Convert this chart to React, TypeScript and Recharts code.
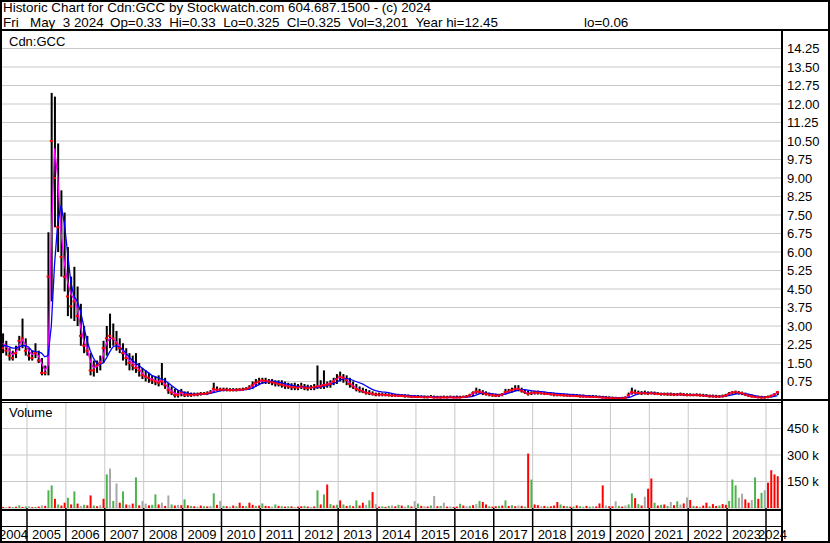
import { Bar, CartesianGrid, Cell, ComposedChart, Line, Scatter, XAxis, YAxis } from "recharts"

// one value per month, May 2004 … Apr 2024
const firstYear = 2004
const firstMonth = 5

const priceHigh = [
  2.7, 2.4, 2.1, 2.0, 2.2, 2.6, 3.3, 2.5,
  2.1, 2.0, 2.3, 2.0, 1.7, 1.4, 6.8, 12.45, 12.3, 10.4, 8.5, 7.6,
  6.2, 5.0, 5.4, 4.6, 3.9, 3.0, 2.6, 1.9, 1.6, 1.6, 1.8, 2.4,
  3.0, 3.5, 3.1, 2.8, 2.5, 2.3, 2.1, 1.9, 1.8, 1.9, 1.5, 1.3,
  1.2, 1.1, 1.0, 0.95, 1.0, 1.5, 0.9, 0.7, 0.55, 0.45, 0.4, 0.45,
  0.35, 0.35, 0.3, 0.3, 0.3, 0.32, 0.32, 0.35, 0.4, 0.7, 0.55, 0.5,
  0.5, 0.5, 0.48, 0.48, 0.48, 0.48, 0.5, 0.52, 0.6, 0.75, 0.85, 0.9,
  0.9, 0.9, 0.85, 0.85, 0.8, 0.8, 0.8, 0.75, 0.7, 0.68, 0.7, 0.65,
  0.7, 0.65, 0.62, 0.6, 0.65, 1.4, 0.8, 1.2, 0.75, 0.8, 0.9, 1.05,
  1.15, 1.05, 1.0, 0.9, 0.75, 0.65, 0.55, 0.5, 0.45, 0.4, 0.35, 0.3,
  0.3, 0.3, 0.28, 0.27, 0.25, 0.25, 0.25, 0.24, 0.23, 0.22, 0.2, 0.2,
  0.2, 0.19, 0.18, 0.18, 0.2, 0.18, 0.17, 0.17, 0.18, 0.17, 0.18, 0.17,
  0.18, 0.17, 0.18, 0.2, 0.25, 0.35, 0.5, 0.45, 0.4, 0.35, 0.3, 0.28,
  0.25, 0.25, 0.28, 0.45, 0.45, 0.5, 0.6, 0.6, 0.5, 0.42, 0.38, 0.35,
  0.38, 0.38, 0.35, 0.33, 0.32, 0.3, 0.3, 0.28, 0.27, 0.26, 0.25, 0.24,
  0.25, 0.24, 0.22, 0.22, 0.2, 0.2, 0.2, 0.19, 0.18, 0.17, 0.16, 0.15,
  0.14, 0.13, 0.12, 0.13, 0.15, 0.3, 0.5, 0.42, 0.38, 0.36, 0.38, 0.35,
  0.35, 0.34, 0.32, 0.3, 0.3, 0.3, 0.3, 0.28, 0.28, 0.3, 0.28, 0.27,
  0.27, 0.26, 0.27, 0.26, 0.25, 0.24, 0.22, 0.22, 0.21, 0.2, 0.22, 0.25,
  0.32, 0.36, 0.38, 0.36, 0.34, 0.3, 0.25, 0.22, 0.2, 0.18, 0.17, 0.16,
  0.18, 0.22, 0.28, 0.36,
]

const priceLow = [
  1.9, 1.8, 1.6, 1.6, 1.7, 2.0, 2.1, 1.8,
  1.6, 1.6, 1.7, 1.5, 1.0, 1.0, 1.0, 4.0, 7.0, 6.0, 5.0, 4.4,
  3.4, 3.3, 3.2, 3.0, 2.2, 1.9, 1.8, 1.0, 0.95, 1.1, 1.2, 1.5,
  1.8, 2.1, 2.2, 2.0, 1.9, 1.6, 1.4, 1.2, 1.2, 1.1, 0.95, 0.85,
  0.75, 0.7, 0.65, 0.6, 0.55, 0.6, 0.45, 0.25, 0.2, 0.1, 0.1, 0.15,
  0.12, 0.13, 0.13, 0.15, 0.15, 0.18, 0.2, 0.2, 0.25, 0.3, 0.35, 0.35,
  0.35, 0.35, 0.35, 0.35, 0.35, 0.36, 0.38, 0.4, 0.42, 0.45, 0.55, 0.6,
  0.65, 0.65, 0.65, 0.6, 0.55, 0.55, 0.5, 0.45, 0.45, 0.4, 0.4, 0.4,
  0.45, 0.4, 0.38, 0.4, 0.4, 0.45, 0.45, 0.45, 0.5, 0.5, 0.6, 0.65,
  0.75, 0.7, 0.6, 0.5, 0.45, 0.35, 0.3, 0.28, 0.22, 0.2, 0.18, 0.15,
  0.15, 0.15, 0.15, 0.14, 0.13, 0.13, 0.12, 0.12, 0.1, 0.1, 0.08, 0.08,
  0.08, 0.08, 0.07, 0.07, 0.08, 0.07, 0.07, 0.06, 0.07, 0.07, 0.08, 0.07,
  0.07, 0.07, 0.08, 0.1, 0.12, 0.15, 0.25, 0.25, 0.2, 0.18, 0.15, 0.13,
  0.12, 0.12, 0.15, 0.22, 0.28, 0.3, 0.35, 0.35, 0.3, 0.25, 0.18, 0.2,
  0.22, 0.22, 0.22, 0.2, 0.2, 0.18, 0.15, 0.15, 0.15, 0.14, 0.14, 0.12,
  0.12, 0.12, 0.1, 0.1, 0.1, 0.09, 0.09, 0.08, 0.08, 0.06, 0.06, 0.05,
  0.05, 0.05, 0.04, 0.05, 0.06, 0.08, 0.22, 0.25, 0.22, 0.2, 0.22, 0.2,
  0.22, 0.2, 0.2, 0.18, 0.18, 0.17, 0.17, 0.16, 0.16, 0.17, 0.16, 0.15,
  0.15, 0.15, 0.15, 0.14, 0.13, 0.12, 0.1, 0.1, 0.09, 0.09, 0.1, 0.12,
  0.18, 0.22, 0.24, 0.22, 0.2, 0.16, 0.12, 0.1, 0.08, 0.07, 0.06, 0.06,
  0.07, 0.1, 0.14, 0.2,
]

const priceClose = [
  2.1, 2.0, 1.8, 1.7, 1.9, 2.4, 2.5, 2.0,
  1.8, 1.7, 1.9, 1.6, 1.1, 1.1, 5.0, 10.5, 9.0, 7.0, 5.8, 5.0,
  4.2, 3.8, 4.0, 3.4, 2.6, 2.2, 2.0, 1.2, 1.2, 1.4, 1.5, 2.1,
  2.5, 2.6, 2.5, 2.3, 2.1, 1.9, 1.7, 1.5, 1.4, 1.3, 1.2, 1.0,
  0.95, 0.9, 0.8, 0.75, 0.7, 0.75, 0.6, 0.4, 0.3, 0.2, 0.2, 0.3,
  0.2, 0.22, 0.2, 0.22, 0.22, 0.25, 0.25, 0.27, 0.3, 0.45, 0.42, 0.42,
  0.42, 0.42, 0.4, 0.4, 0.4, 0.42, 0.42, 0.45, 0.5, 0.6, 0.7, 0.75,
  0.8, 0.78, 0.75, 0.72, 0.68, 0.65, 0.62, 0.58, 0.55, 0.52, 0.52, 0.5,
  0.55, 0.5, 0.48, 0.5, 0.52, 0.55, 0.55, 0.6, 0.62, 0.65, 0.75, 0.85,
  0.95, 0.9, 0.8, 0.65, 0.55, 0.45, 0.4, 0.35, 0.3, 0.28, 0.25, 0.22,
  0.22, 0.22, 0.2, 0.2, 0.18, 0.18, 0.17, 0.17, 0.15, 0.15, 0.13, 0.13,
  0.12, 0.12, 0.11, 0.11, 0.12, 0.1, 0.1, 0.1, 0.11, 0.1, 0.11, 0.1,
  0.1, 0.1, 0.12, 0.14, 0.18, 0.28, 0.35, 0.33, 0.3, 0.25, 0.22, 0.2,
  0.18, 0.18, 0.22, 0.32, 0.35, 0.4, 0.45, 0.45, 0.38, 0.32, 0.25, 0.28,
  0.3, 0.3, 0.28, 0.26, 0.25, 0.24, 0.22, 0.2, 0.2, 0.19, 0.18, 0.17,
  0.17, 0.16, 0.15, 0.14, 0.14, 0.13, 0.12, 0.12, 0.11, 0.1, 0.09, 0.08,
  0.08, 0.07, 0.06, 0.07, 0.09, 0.2, 0.32, 0.3, 0.28, 0.27, 0.28, 0.26,
  0.28, 0.26, 0.25, 0.24, 0.24, 0.23, 0.23, 0.22, 0.22, 0.23, 0.22, 0.2,
  0.2, 0.2, 0.2, 0.19, 0.18, 0.17, 0.15, 0.15, 0.14, 0.14, 0.15, 0.18,
  0.25, 0.3, 0.32, 0.3, 0.28, 0.22, 0.18, 0.15, 0.13, 0.11, 0.1, 0.1,
  0.12, 0.16, 0.22, 0.32,
]

// magenta (short) average
const maFast = [
  2.3, 2.2, 2.0, 1.85, 1.9, 2.2, 2.45, 2.25,
  2.0, 1.85, 1.9, 1.8, 1.5, 1.2, 1.4, 6.5, 10.2, 9.0, 6.8, 5.6,
  4.8, 4.3, 4.1, 3.7, 3.0, 2.4, 2.1, 1.6, 1.3, 1.35, 1.45, 1.8,
  2.3, 2.5, 2.5, 2.35, 2.2, 2.0, 1.8, 1.6, 1.5, 1.4, 1.25, 1.1,
  0.95, 0.9, 0.85, 0.8, 0.75, 0.8, 0.65, 0.5, 0.38, 0.28, 0.24, 0.27,
  0.24, 0.22, 0.21, 0.21, 0.22, 0.24, 0.25, 0.26, 0.29, 0.38, 0.42, 0.42,
  0.42, 0.42, 0.41, 0.4, 0.4, 0.41, 0.42, 0.44, 0.48, 0.56, 0.67, 0.74,
  0.78, 0.78, 0.76, 0.73, 0.69, 0.66, 0.63, 0.6, 0.56, 0.53, 0.52, 0.51,
  0.53, 0.51, 0.49, 0.49, 0.51, 0.56, 0.58, 0.62, 0.64, 0.68, 0.76, 0.86,
  0.93, 0.92, 0.84, 0.7, 0.58, 0.48, 0.41, 0.36, 0.31, 0.28, 0.25, 0.23,
  0.22, 0.22, 0.21, 0.2, 0.19, 0.18, 0.17, 0.17, 0.16, 0.15, 0.14, 0.13,
  0.12, 0.12, 0.11, 0.11, 0.11, 0.1, 0.1, 0.1, 0.1, 0.1, 0.1, 0.1,
  0.1, 0.1, 0.11, 0.13, 0.17, 0.25, 0.33, 0.34, 0.31, 0.27, 0.23, 0.2,
  0.18, 0.18, 0.2, 0.28, 0.34, 0.38, 0.44, 0.45, 0.4, 0.33, 0.27, 0.27,
  0.29, 0.3, 0.28, 0.26, 0.25, 0.24, 0.22, 0.21, 0.2, 0.19, 0.18, 0.17,
  0.17, 0.16, 0.15, 0.14, 0.14, 0.13, 0.12, 0.12, 0.11, 0.1, 0.09, 0.08,
  0.08, 0.07, 0.06, 0.07, 0.08, 0.15, 0.3, 0.31, 0.29, 0.27, 0.28, 0.26,
  0.28, 0.26, 0.25, 0.24, 0.24, 0.23, 0.23, 0.22, 0.22, 0.23, 0.22, 0.2,
  0.2, 0.2, 0.2, 0.19, 0.18, 0.17, 0.15, 0.15, 0.14, 0.14, 0.15, 0.18,
  0.25, 0.3, 0.32, 0.3, 0.28, 0.23, 0.18, 0.15, 0.13, 0.11, 0.1, 0.1,
  0.12, 0.16, 0.22, 0.3,
]

// blue (long) average
const maSlow = [
  2.2, 2.2, 2.15, 2.1, 2.1, 2.15, 2.2, 2.2,
  2.15, 2.0, 1.95, 1.95, 1.9, 1.75, 1.8, 3.0, 5.5, 7.2, 7.9, 7.2,
  6.0, 4.8, 4.2, 4.0, 3.6, 3.0, 2.4, 2.0, 1.7, 1.5, 1.45, 1.5,
  1.7, 1.95, 2.15, 2.2, 2.15, 2.05, 1.9, 1.75, 1.6, 1.5, 1.4, 1.3,
  1.2, 1.1, 1.0, 0.95, 0.9, 0.85, 0.8, 0.7, 0.6, 0.5, 0.4, 0.35,
  0.3, 0.28, 0.25, 0.24, 0.23, 0.23, 0.24, 0.25, 0.27, 0.3, 0.33, 0.37,
  0.4, 0.41, 0.41, 0.41, 0.41, 0.41, 0.41, 0.42, 0.44, 0.48, 0.55, 0.62,
  0.68, 0.72, 0.75, 0.76, 0.75, 0.72, 0.69, 0.66, 0.63, 0.6, 0.57, 0.55,
  0.54, 0.53, 0.52, 0.51, 0.5, 0.5, 0.52, 0.55, 0.58, 0.62, 0.67, 0.72,
  0.8, 0.85, 0.87, 0.85, 0.8, 0.75, 0.7, 0.65, 0.58, 0.5, 0.43, 0.38,
  0.35, 0.33, 0.32, 0.3, 0.27, 0.24, 0.22, 0.21, 0.2, 0.19, 0.18, 0.17,
  0.16, 0.15, 0.15, 0.14, 0.14, 0.13, 0.13, 0.12, 0.12, 0.12, 0.12, 0.12,
  0.12, 0.12, 0.12, 0.12, 0.13, 0.15, 0.2, 0.25, 0.28, 0.28, 0.27, 0.25,
  0.24, 0.22, 0.22, 0.24, 0.28, 0.32, 0.36, 0.4, 0.42, 0.42, 0.4, 0.38,
  0.36, 0.35, 0.34, 0.33, 0.31, 0.3, 0.28, 0.27, 0.26, 0.25, 0.24, 0.23,
  0.22, 0.21, 0.2, 0.19, 0.18, 0.17, 0.16, 0.15, 0.14, 0.13, 0.12, 0.11,
  0.1, 0.1, 0.09, 0.09, 0.09, 0.1, 0.14, 0.2, 0.25, 0.28, 0.29, 0.29,
  0.29, 0.28, 0.27, 0.26, 0.25, 0.24, 0.24, 0.23, 0.23, 0.23, 0.22, 0.22,
  0.21, 0.21, 0.2, 0.2, 0.19, 0.18, 0.17, 0.16, 0.15, 0.15, 0.15, 0.16,
  0.18, 0.21, 0.24, 0.26, 0.27, 0.26, 0.24, 0.21, 0.18, 0.15, 0.13, 0.12,
  0.12, 0.13, 0.15, 0.18,
]

// volume in thousands of shares
const volumeK = [
  6, 4, 8, 5, 7, 15, 6, 9,
  10, 5, 6, 8, 15, 12, 100, 128, 52, 20, 14, 30,
  58, 20, 94, 25, 12, 18, 15, 71, 14, 10, 15, 52,
  190, 223, 40, 139, 30, 94, 20, 18, 25, 173, 15, 40,
  25, 15, 18, 77, 20, 30, 12, 71, 20, 14, 18, 16,
  49, 15, 12, 10, 8, 14, 10, 9, 12, 83, 18, 40,
  12, 10, 8, 14, 10, 30, 12, 10, 30, 18, 12, 14,
  26, 12, 10, 8, 20, 12, 10, 8, 10, 9, 6, 8,
  10, 12, 8, 6, 9, 100, 20, 77, 133, 22, 14, 18,
  43, 20, 12, 15, 10, 43, 14, 30, 18, 43, 90, 22,
  8, 10, 6, 12, 15, 10, 18, 14, 8, 16, 9, 39,
  25, 12, 10, 8, 14, 68, 10, 12, 30, 8, 9, 6,
  8, 24, 14, 10, 12, 16, 22, 40, 34, 20, 10, 8,
  10, 12, 14, 43, 12, 16, 10, 14, 12, 8, 308, 161,
  20, 16, 10, 12, 8, 10, 14, 34, 20, 12, 10, 8,
  8, 15, 10, 8, 12, 8, 10, 9, 26, 128, 14, 10,
  10, 38, 12, 8, 14, 20, 83, 56, 22, 14, 64, 109,
  167, 30, 14, 18, 20, 12, 34, 16, 38, 20, 26, 60,
  45, 12, 10, 8, 14, 30, 10, 22, 12, 14, 22, 18,
  40, 161, 128, 58, 81, 49, 30, 45, 173, 52, 86, 101,
  143, 214, 190, 180,
]

// g = up, r = down, n = unchanged
const volumeTone = [
  "rnrgrgrg",
  "nrgrnrggrgrr", "grgrngrrgrnr", "gngnrgrnrgrn", "nrggrnrngrnr", "grgrnrgrngrn",
  "grnrgrrgrrgr", "grrngrgrgrnr", "rgrnrgrgrgrg", "rgrgrgrrngrn", "rgrgnrgrngrn",
  "grnrgnrgnrnr", "rgrngrngrrgr", "rgrgrgrnrgrg", "rrnrgrrrgrgr", "grgnrgnrrrnr",
  "rngrnggrgrnr", "rgrgrgnrgnrn", "rgrnrrgrrgrr", "gggnnrrngrgn",
  "rrrr",
].join("")

const yearTicks = [2005, 2006, 2007, 2008, 2009, 2010, 2011, 2012, 2013, 2014, 2015, 2016, 2017, 2018, 2019, 2020, 2021, 2022, 2023, 2024]
const yearLabels = [2004, 2005, 2006, 2007, 2008, 2009, 2010, 2011, 2012, 2013, 2014, 2015, 2016, 2017, 2018, 2019, 2020, 2021, 2022, 2023, 2024]
const priceTicks = [0.75, 1.5, 2.25, 3, 3.75, 4.5, 5.25, 6, 6.75, 7.5, 8.25, 9, 9.75, 10.5, 11.25, 12, 12.75, 13.5, 14.25]
const volumeTicks = [150, 300, 450]

const titleLine = "Historic Chart for Cdn:GCC by Stockwatch.com 604.687.1500 - (c) 2024"
// quote line pieces with the x each one starts at
const quoteParts = ["Fri", "May  3 2024", "Op=0.33  Hi=0.33  Lo=0.325  Cl=0.325  Vol=3,201  Year hi=12.45", "lo=0.06"]
const quoteX = [3, 30, 110, 584]

const xStart = 2004.306
const xEnd = 2024.411
const lastTrade = 2024.336

const toneColor: Record<string, string> = { g: "#4db34d", r: "#ff0000", n: "#a8a8a8" }
const FONT = '"Liberation Sans", Arial, Helvetica, sans-serif'

const rows = priceHigh.map((h, i) => {
  const m = firstMonth - 1 + i
  const t = firstYear + Math.floor(m / 12) + ((m % 12) + 0.5) / 12
  return {
    t,
    range: [priceLow[i], h],
    close: priceClose[i],
    fast: maFast[i],
    slow: maSlow[i],
    vol: volumeK[i],
    tone: volumeTone[i],
  }
})

const labelPos = yearLabels.map((y) =>
  y === 2004 ? (xStart + 2005) / 2 : y === 2024 ? (2024 + lastTrade) / 2 : y + 0.5
)

const PriceBar = (props: any) => {
  const { x, y, width, height } = props
  if (x == null || y == null) return null
  const top = Math.min(y, y + height)
  const h = Math.max(Math.abs(height), 1)
  return <rect x={x} y={top} width={width} height={h} fill="#000" />
}

const CloseMark = (props: any) => {
  if (props.cx == null || props.cy == null) return null
  return <rect x={props.cx - 1.5} y={props.cy - 1} width={3} height={2} fill="#ff0000" />
}

const rightTick = (fmt: (v: number) => string) => (props: any) => (
  <text x={props.x} y={props.y} dy={4.5} fontSize={13} fontFamily={FONT} fill="#000" textAnchor="start">
    {fmt(props.payload.value)}
  </text>
)

const YearLine = (props: any) => (
  <line x1={props.x} x2={props.x} y1={props.y} y2={props.y + 33} stroke="#000" strokeWidth={1.5} />
)

const YearLabel = (props: any) => (
  <text x={props.x} y={props.y} dy={13} fontSize={13} fontFamily={FONT} fill="#000" textAnchor="middle">
    {Math.floor(props.payload.value)}
  </text>
)

const line = (left: number, top: number, width: number, height: number) => (
  <div style={{ position: "absolute", left, top, width, height, background: "#000" }} />
)

const HEAD = 13.4

export default function App() {
  return (
    <div style={{ position: "absolute", left: 0, top: 0, width: 830, height: 543, background: "#fff", overflow: "hidden", fontFamily: FONT, color: "#000" }}>
      <div style={{ position: "absolute", left: 3, top: 0, fontSize: HEAD, lineHeight: "15px", whiteSpace: "pre" }}>{titleLine}</div>
      {quoteParts.map((p, i) => (
        <div key={i} style={{ position: "absolute", left: quoteX[i], top: 15, fontSize: HEAD, lineHeight: "15px", whiteSpace: "pre" }}>
          {p}
        </div>
      ))}

      <div style={{ position: "absolute", left: 0, top: 30 }}>
        <ComposedChart width={830} height={370} data={rows} margin={{ top: 0, right: 0, bottom: 0, left: 0 }}>
          <CartesianGrid stroke="#c8c8c8" strokeWidth={1} />
          <XAxis type="number" dataKey="t" domain={[xStart, xEnd]} ticks={yearTicks} interval={0} height={0} tick={false} axisLine={false} tickLine={false} allowDataOverflow />
          <YAxis orientation="right" width={48} domain={[0, 15]} ticks={priceTicks} interval={0} axisLine={false} tickLine={false} tickSize={0} tickMargin={5} tick={rightTick((v) => v.toFixed(2))} allowDataOverflow />
          <Bar dataKey="range" barSize={2} shape={<PriceBar />} isAnimationActive={false} />
          <Scatter dataKey="close" shape={<CloseMark />} isAnimationActive={false} />
          <Line dataKey="fast" type="linear" stroke="#ff00ff" strokeWidth={1.3} dot={false} isAnimationActive={false} />
          <Line dataKey="slow" type="linear" stroke="#0000ff" strokeWidth={1.3} dot={false} isAnimationActive={false} />
        </ComposedChart>
      </div>

      <div style={{ position: "absolute", left: 0, top: 402 }}>
        <ComposedChart width={830} height={141} data={rows} margin={{ top: 0, right: 0, bottom: 0, left: 0 }}>
          <CartesianGrid stroke="#c8c8c8" strokeWidth={1} />
          <XAxis type="number" dataKey="t" domain={[xStart, xEnd]} ticks={yearTicks} interval={0} height={18} axisLine={false} tickLine={false} tickSize={0} tickMargin={0} tick={<YearLine />} allowDataOverflow />
          <XAxis xAxisId="lbl" type="number" dataKey="t" domain={[xStart, xEnd]} ticks={labelPos} interval={0} height={17} axisLine={false} tickLine={false} tickSize={0} tickMargin={0} tick={<YearLabel />} allowDataOverflow />
          <YAxis orientation="right" width={48} domain={[0, 600]} ticks={volumeTicks} interval={0} axisLine={false} tickLine={false} tickSize={0} tickMargin={5} tick={rightTick((v) => `${v} k`)} allowDataOverflow />
          <Bar dataKey="vol" barSize={2} isAnimationActive={false}>
            {rows.map((r, i) => (
              <Cell key={i} fill={toneColor[r.tone]} />
            ))}
          </Bar>
        </ComposedChart>
      </div>

      {line(0, 0, 830, 2)}
      {line(0, 0, 2, 543)}
      {line(828, 0, 2, 543)}
      {line(0, 541, 830, 2)}
      {line(0, 29, 830, 2)}
      {line(781, 29, 2, 514)}
      {line(0, 399, 830, 2)}
      {line(0, 402, 782, 1)}
      {line(0, 509, 782, 2)}
      {line(0, 526, 782, 1)}

      <div style={{ position: "absolute", left: 9, top: 34, fontSize: 13, lineHeight: "15px" }}>Cdn:GCC</div>
      <div style={{ position: "absolute", left: 9, top: 405, fontSize: 13, lineHeight: "15px" }}>Volume</div>
    </div>
  )
}
